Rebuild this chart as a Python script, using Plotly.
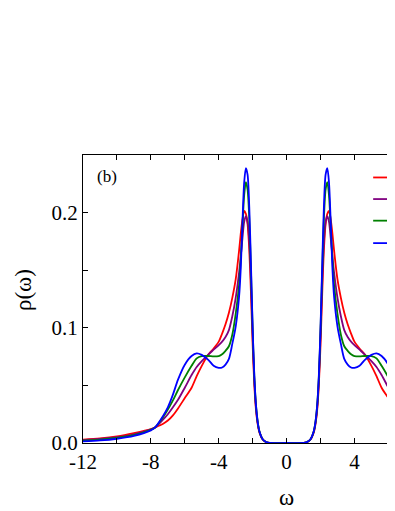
import plotly.graph_objects as go

omega = [-12, -11, -10, -9, -8, -7.75, -7.3, -7.0, -6.7, -6.4, -6.0, -5.6, -5.3, -5.0, -4.6,
         -4.3, -4.0, -3.8, -3.6, -3.4, -3.2, -3.0, -2.8, -2.7, -2.6, -2.5, -2.4, -2.3, -2.2, -2.1,
         -2.0, -1.9, -1.8, -1.7, -1.6, -1.4, -1.2, -1.0, 0,
         1.0, 1.2, 1.4, 1.6, 1.7, 1.8, 1.9, 2.0, 2.1, 2.2, 2.3, 2.4, 2.5, 2.6, 2.7, 2.8,
         3.0, 3.2, 3.4, 3.6, 3.8, 4.0, 4.3, 4.6, 5.0, 5.3, 5.6, 6.0, 6.4, 6.7, 7.0]

rho_red = [0.003, 0.004, 0.0057, 0.0085, 0.012, 0.0135, 0.0165, 0.0195, 0.024, 0.030, 0.039, 0.048,
           0.058, 0.067, 0.077, 0.082, 0.088, 0.095, 0.103, 0.113, 0.126, 0.142, 0.167, 0.182, 0.194,
           0.2014, 0.199, 0.190, 0.168, 0.130, 0.085, 0.050, 0.028, 0.016, 0.009, 0.0028, 0.0007, 0,
           0,
           0, 0.0007, 0.0028, 0.009, 0.016, 0.028, 0.050, 0.085, 0.130, 0.168, 0.190, 0.199, 0.2014,
           0.194, 0.182, 0.167, 0.142, 0.126, 0.113, 0.103, 0.095, 0.088, 0.082, 0.077, 0.067, 0.058,
           0.048, 0.039, 0.030, 0.024, 0.0195]

rho_purple = [0.0025, 0.0035, 0.005, 0.0075, 0.0118, 0.0135, 0.020, 0.025, 0.031, 0.0375, 0.048, 0.059,
              0.066, 0.071, 0.077, 0.081, 0.085, 0.088, 0.092, 0.098, 0.110, 0.126, 0.148, 0.162, 0.178,
              0.192, 0.197, 0.192, 0.175, 0.140, 0.093, 0.054, 0.030, 0.017, 0.010, 0.003, 0.0008, 0,
              0,
              0, 0.0008, 0.003, 0.010, 0.017, 0.030, 0.054, 0.093, 0.140, 0.175, 0.192, 0.197, 0.192,
              0.178, 0.162, 0.148, 0.126, 0.110, 0.098, 0.092, 0.088, 0.085, 0.081, 0.077, 0.071, 0.066,
              0.059, 0.048, 0.0375, 0.031, 0.025]

rho_green = [0.002, 0.003, 0.0045, 0.0068, 0.0115, 0.0135, 0.022, 0.029, 0.037, 0.046, 0.057, 0.067,
             0.0735, 0.0755, 0.0755, 0.0752, 0.0755, 0.077, 0.080, 0.084, 0.094, 0.112, 0.137, 0.160,
             0.188, 0.215, 0.2265, 0.220, 0.195, 0.150, 0.098, 0.057, 0.032, 0.018, 0.010, 0.003, 0.0008, 0,
             0,
             0, 0.0008, 0.003, 0.010, 0.018, 0.032, 0.057, 0.098, 0.150, 0.195, 0.220, 0.2265, 0.215,
             0.188, 0.160, 0.137, 0.112, 0.094, 0.084, 0.080, 0.077, 0.0755, 0.0752, 0.0755, 0.0755,
             0.0735, 0.067, 0.057, 0.046, 0.037, 0.029]

rho_blue = [0.0014, 0.0022, 0.0037, 0.0062, 0.011, 0.0135, 0.023, 0.031, 0.042, 0.055, 0.068, 0.0755,
            0.0778, 0.0765, 0.072, 0.067, 0.0652, 0.0655, 0.068, 0.073, 0.086, 0.101, 0.127, 0.152,
            0.192, 0.226, 0.2386, 0.233, 0.205, 0.155, 0.100, 0.058, 0.032, 0.018, 0.010, 0.003, 0.0008, 0,
            0,
            0, 0.0008, 0.003, 0.010, 0.018, 0.032, 0.058, 0.100, 0.155, 0.205, 0.233, 0.2386, 0.226,
            0.192, 0.152, 0.127, 0.101, 0.086, 0.073, 0.068, 0.0655, 0.0652, 0.067, 0.072, 0.0765,
            0.0778, 0.0755, 0.068, 0.055, 0.042, 0.031]

series = [("red", rho_red, "#ff0000"),
          ("purple", rho_purple, "#800080"),
          ("green", rho_green, "#008000"),
          ("blue", rho_blue, "#0000ff")]

x_ticks = [-12, -8, -4, 0, 4]
y_ticks = [0.0, 0.1, 0.2]
x_range = [-12, 6.39]
y_range = [0, 0.25]

# page body has an 8px default margin, so the figure starts at (8, 8)
W, H = 387, 503
ML, MR, MT, MB = 75, 0, 147, 68

fig = go.Figure()
for name, vals, col in series:
    fig.add_trace(go.Scatter(x=omega, y=vals, mode="lines", name=name,
                             line=dict(color=col, width=1.8, shape="spline", smoothing=0.8),
                             showlegend=False))

serif = "Liberation Serif, Times New Roman, serif"
axis_common = dict(showline=True, linecolor="black", linewidth=1.3, ticks="inside", ticklen=5,
                   tickwidth=1, tickcolor="black", showgrid=False, zeroline=False,
                   tickfont=dict(family=serif, size=21, color="black"))

fig.update_xaxes(range=x_range, tickvals=x_ticks, ticktext=[str(v) for v in x_ticks],
                 mirror="ticks", minor=dict(dtick=2, tick0=0, ticks="inside", ticklen=5,
                                            tickcolor="black", showgrid=False),
                 **axis_common)
fig.update_yaxes(range=y_range, tickvals=y_ticks, ticktext=["0.0", "0.1", "0.2"],
                 mirror=False, minor=dict(dtick=0.05, tick0=0, ticks="inside", ticklen=5,
                                          tickcolor="black", showgrid=False),
                 **axis_common)

# legend line samples (their labels fall outside the visible frame)
leg_y = [0.922, 0.847, 0.772, 0.694]
for (name, vals, col), yy in zip(series, leg_y):
    fig.add_shape(type="line", xref="paper", yref="paper", x0=0.93, x1=0.999, y0=yy, y1=yy,
                  line=dict(color=col, width=1.8), layer="above")

fig.add_annotation(text="(b)", xref="paper", yref="paper", x=0.078, y=0.927,
                   xanchor="center", yanchor="middle",
                   showarrow=False, font=dict(family=serif, size=17, color="black"))
fig.add_annotation(text="ω", xref="paper", yref="paper", x=0.653, y=-0.19,
                   xanchor="center", yanchor="middle",
                   showarrow=False, font=dict(family=serif, size=23, color="black"))
fig.add_annotation(text="ρ(ω)", xref="paper", yref="paper", x=-0.19, y=0.53, textangle=-90,
                   xanchor="center", yanchor="middle",
                   showarrow=False, font=dict(family=serif, size=23, color="black"))

fig.update_layout(width=W, height=H, margin=dict(l=ML, r=MR, t=MT, b=MB),
                  plot_bgcolor="white", paper_bgcolor="white")

fig.write_html("out.html")
